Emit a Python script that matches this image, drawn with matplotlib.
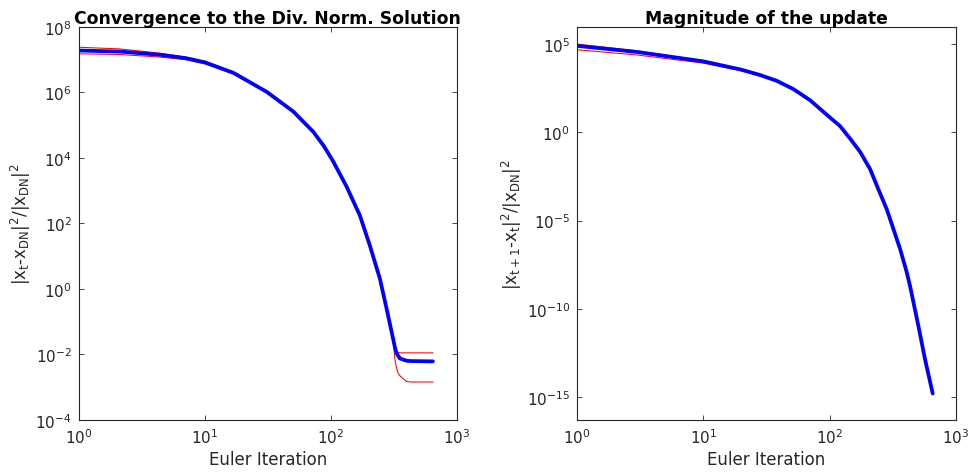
import matplotlib.pyplot as plt
import numpy as np

# iterations (log x axis), left panel
it_left = [1, 2.1, 4.4, 7, 10, 16.8, 30.9, 50.2, 72.4, 88, 104, 133, 170, 204, 245, 277,
           312, 322, 331, 342, 353, 398, 425, 645]
# log10 of the error, left panel
blue_left = [7.28, 7.25, 7.15, 7.05, 6.92, 6.6, 6.02, 5.42, 4.8, 4.36, 3.9, 3.13, 2.24,
             1.32, 0.31, -0.61, -1.53, -1.78, -1.95, -2.04, -2.12, -2.19, -2.2, -2.21]
red_up_left = [7.38, 7.33, 7.2, 7.08, 6.94, 6.61, 6.03, 5.43, 4.81, 4.37, 3.91, 3.14, 2.25,
               1.33, 0.32, -0.60, -1.52, -1.74, -1.88, -1.93, -1.95, -1.95, -1.95, -1.95]
red_lo_left = [7.18, 7.16, 7.08, 7.0, 6.87, 6.57, 6.01, 5.41, 4.79, 4.35, 3.89, 3.12, 2.23,
               1.31, 0.30, -0.62, -1.54, -2.14, -2.40, -2.58, -2.65, -2.82, -2.84, -2.84]

# iterations, right panel
it_right = [1, 3, 10, 20, 28, 38.1, 51.6, 70, 94.8, 121, 145, 174, 209, 243, 283, 320,
            361, 408, 433, 504, 569, 655]
# log10 of the update size, right panel
blue_right = [4.9, 4.55, 4.02, 3.55, 3.25, 2.92, 2.45, 1.82, 1.0, 0.35, -0.35, -1.1,
              -2.08, -3.22, -4.35, -5.48, -6.6, -7.93, -8.7, -10.96, -12.85, -14.8]
red_up_right = [5.0, 4.62, 4.05, 3.56, 3.26, 2.93, 2.46, 1.83, 1.01, 0.36, -0.34, -1.09,
                -2.07, -3.21, -4.34, -5.47, -6.59, -7.92, -8.69, -10.95, -12.84, -14.79]
red_lo_right = [4.68, 4.38, 3.92, 3.48, 3.2, 2.88, 2.43, 1.81, 0.99, 0.34, -0.36, -1.11,
                -2.09, -3.23, -4.36, -5.49, -6.61, -7.94, -8.71, -10.97, -12.86, -14.81]

grey = (0.15, 0.15, 0.15)
plt.rcParams['font.family'] = 'DejaVu Sans'
plt.rcParams['mathtext.fontset'] = 'dejavusans'

fig = plt.figure(figsize=(9.69, 4.77), dpi=100)
ax1 = fig.add_axes([0.0815, 0.1174, 0.390, 0.824])
ax2 = fig.add_axes([0.5955, 0.1174, 0.391, 0.824])

line_kw = dict(solid_joinstyle='round', solid_capstyle='round')

# left panel
ax1.plot(it_left, 10 ** np.array(red_up_left), color='red', lw=0.75, **line_kw)
ax1.plot(it_left, 10 ** np.array(red_lo_left), color='red', lw=0.75, **line_kw)
ax1.plot(it_left, 10 ** np.array(blue_left), color='blue', lw=2.7, **line_kw)
ax1.set_xscale('log')
ax1.set_yscale('log')
ax1.set_xlim(1, 1000)
ax1.set_ylim(1e-4, 1e8)
ax1.set_yticks([1e-4, 1e-2, 1e0, 1e2, 1e4, 1e6, 1e8])
ax1.set_title('Convergence to the Div. Norm. Solution', fontsize=12.4,
              fontweight='bold', pad=3)
ax1.set_ylabel(r'$\mathregular{|x_t}$-$\mathregular{x_{DN}|^2/|x_{DN}|^2}$',
               fontsize=12, color=grey, labelpad=2)

# right panel
ax2.plot(it_right, 10 ** np.array(red_up_right), color='red', lw=0.75, **line_kw)
ax2.plot(it_right, 10 ** np.array(red_lo_right), color='red', lw=0.75, **line_kw)
ax2.plot(it_right, 10 ** np.array(blue_right), color='blue', lw=2.7, **line_kw)
ax2.set_xscale('log')
ax2.set_yscale('log')
ax2.set_xlim(1, 1000)
ax2.set_ylim(10 ** -16.3, 10 ** 5.97)
ax2.set_yticks([1e-15, 1e-10, 1e-5, 1e0, 1e5])
ax2.set_title('Magnitude of the update', fontsize=12.4, fontweight='bold', pad=3)
ax2.set_ylabel(r'$\mathregular{|x_{t+1}}$-$\mathregular{x_t|^2/|x_{DN}|^2}$',
               fontsize=12, color=grey, labelpad=2)

for ax in (ax1, ax2):
    ax.set_xticks([1, 10, 100, 1000])
    ax.minorticks_off()
    ax.set_xlabel('Euler Iteration', fontsize=12, color=grey, labelpad=3)
    ax.tick_params(direction='in', length=3.5, width=0.6, top=True, right=True,
                   labelsize=11, colors=grey, pad=5)
    for s in ax.spines.values():
        s.set_color(grey)
        s.set_linewidth(0.8)

plt.savefig('out.png', dpi=100)
